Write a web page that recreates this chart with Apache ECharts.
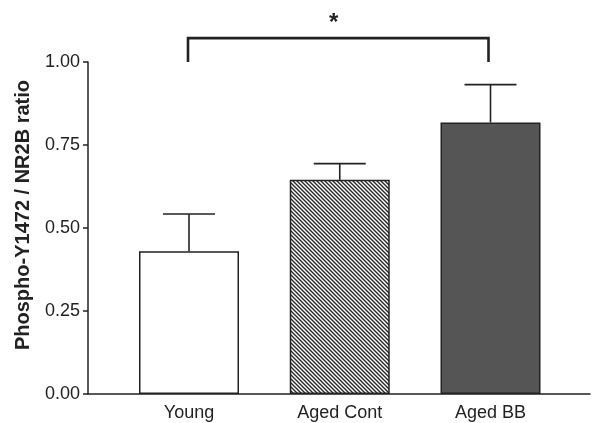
<!DOCTYPE html>
<html>
<head>
<meta charset="utf-8">
<script src="https://cdn.jsdelivr.net/npm/echarts@6/dist/echarts.min.js"></script>
<style>
  html, body { margin: 0; padding: 0; background: #fff; }
  #chart { width: 592px; height: 423px; }
</style>
</head>
<body>
<div id="chart"></div>
<script>
// values
const categories = ["Young", "Aged Cont", "Aged BB"]
const means = [0.43, 0.645, 0.818]
const sem = [0.112, 0.049, 0.114]
const yTicks = [0, 0.25, 0.5, 0.75, 1.0]
// significance bracket: from group 0 to group 2, drawn at this height, legs down to legBottom
const bracket = [[0, 2, 1.072, 1.0, "*"]]

const ink = "#222"
const font = "'Liberation Sans', Arial, sans-serif"

// "\\\\" hatching for the Aged Cont bar
function hatch() {
  const size = 4
  const c = document.createElement("canvas")
  c.width = size
  c.height = size
  const ctx = c.getContext("2d")
  ctx.fillStyle = "#fff"
  ctx.fillRect(0, 0, size, size)
  ctx.strokeStyle = "#2a2a2a"
  ctx.lineWidth = 1.4
  ctx.beginPath()
  ctx.moveTo(-1, -1)
  ctx.lineTo(size + 1, size + 1)
  ctx.moveTo(-1, size - 1)
  ctx.lineTo(1, size + 1)
  ctx.moveTo(size - 1, -1)
  ctx.lineTo(size + 1, 1)
  ctx.stroke()
  return { image: c, repeat: "repeat" }
}

const fills = ["#ffffff", hatch(), "#555555"]

const barData = means.map((v, i) => ({
  value: [i, v],
  itemStyle: { color: fills[i] }
}))

const errData = means.map((v, i) => [i, v, v + sem[i]])

function renderError(params, api) {
  const x = api.value(0)
  const base = api.coord([x, api.value(1)])
  const top = api.coord([x, api.value(2)])
  const half = 26
  const style = { stroke: ink, lineWidth: 1.6, fill: null }
  return {
    type: "group",
    children: [
      { type: "line", shape: { x1: base[0], y1: base[1], x2: top[0], y2: top[1] }, style },
      { type: "line", shape: { x1: top[0] - half, y1: top[1], x2: top[0] + half, y2: top[1] }, style }
    ]
  }
}

function renderBracket(params, api) {
  const a = api.coord([api.value(0), api.value(2)])
  const b = api.coord([api.value(1), api.value(2)])
  const legA = api.coord([api.value(0), api.value(3)])
  const legB = api.coord([api.value(1), api.value(3)])
  return {
    type: "group",
    children: [
      {
        type: "polyline",
        shape: { points: [[legA[0] - 1, legA[1]], [a[0] - 1, a[1]], [b[0] - 2, b[1]], [legB[0] - 2, legB[1]]] },
        style: { stroke: ink, lineWidth: 2.6, fill: null }
      },
      {
        type: "text",
        x: (a[0] + b[0]) / 2 - 6,
        y: a[1] - 15,
        style: {
          text: api.value(4),
          fill: ink,
          font: "bold 24px " + font,
          align: "center",
          verticalAlign: "middle"
        }
      }
    ]
  }
}

const chart = echarts.init(document.getElementById("chart"))
chart.setOption({
  animation: false,
  backgroundColor: "#fff",
  grid: { left: 88, right: 2, top: 62, bottom: 29, containLabel: false },
  xAxis: {
    type: "value",
    min: -0.67,
    max: 2.66,
    splitLine: { show: false },
    axisLine: { show: true, onZero: false, lineStyle: { color: ink, width: 1.5 } },
    axisTick: { show: false },
    axisLabel: {
      customValues: [0, 1, 2],
      formatter: (v) => categories[Math.round(v)] || "",
      color: ink,
      fontSize: 18,
      fontFamily: font,
      margin: 10
    }
  },
  yAxis: {
    type: "value",
    min: 0,
    max: 1,
    interval: 0.25,
    name: "Phospho-Y1472 / NR2B ratio",
    nameLocation: "middle",
    nameGap: 55,
    nameTextStyle: {
      color: ink,
      fontSize: 20,
      fontWeight: "bold",
      fontFamily: font,
      padding: [0, 0, 0, 26]
    },
    splitLine: { show: false },
    axisLine: { show: true, onZero: false, lineStyle: { color: ink, width: 1.5 } },
    axisTick: { show: true, length: 5, lineStyle: { color: ink, width: 1.5 } },
    axisLabel: {
      customValues: yTicks,
      formatter: (v) => v.toFixed(2),
      color: ink,
      fontSize: 18,
      fontFamily: font,
      margin: 8
    }
  },
  series: [
    {
      type: "bar",
      data: barData,
      barWidth: 100,
      itemStyle: { borderColor: ink, borderWidth: 1.5 },
      z: 2
    },
    {
      type: "custom",
      renderItem: renderError,
      data: errData,
      encode: { x: 0, y: [1, 2] },
      z: 3
    },
    {
      type: "custom",
      renderItem: renderBracket,
      data: bracket,
      encode: { x: [0, 1], y: [2, 3] },
      clip: false,
      z: 3
    }
  ]
})
</script>
</body>
</html>
